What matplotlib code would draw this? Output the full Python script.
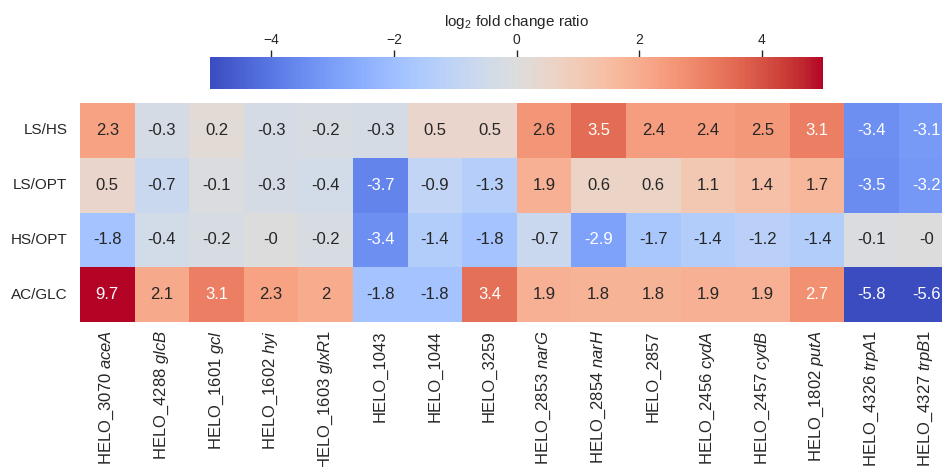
import numpy as np
import pandas as pd
import matplotlib
matplotlib.use("Agg")
import matplotlib.pyplot as plt
import seaborn as sns

# comparisons (rows) and genes (columns)
conditions = ["LS/HS", "LS/OPT", "HS/OPT", "AC/GLC"]
genes = [
    r"HELO_3070 $\mathit{aceA}$", r"HELO_4288 $\mathit{glcB}$", r"HELO_1601 $\mathit{gcl}$",
    r"HELO_1602 $\mathit{hyi}$", r"HELO_1603 $\mathit{glxR1}$", "HELO_1043", "HELO_1044",
    "HELO_3259", r"HELO_2853 $\mathit{narG}$", r"HELO_2854 $\mathit{narH}$", "HELO_2857",
    r"HELO_2456 $\mathit{cydA}$", r"HELO_2457 $\mathit{cydB}$", r"HELO_1802 $\mathit{putA}$",
    r"HELO_4326 $\mathit{trpA1}$", r"HELO_4327 $\mathit{trpB1}$",
]

ls_hs = [2.3, -0.3, 0.2, -0.3, -0.2, -0.3, 0.5, 0.5, 2.6, 3.5, 2.4, 2.4, 2.5, 3.1, -3.4, -3.1]
ls_opt = [0.5, -0.7, -0.1, -0.3, -0.4, -3.7, -0.9, -1.3, 1.9, 0.6, 0.6, 1.1, 1.4, 1.7, -3.5, -3.2]
hs_opt = [-1.8, -0.4, -0.2, -0.0, -0.2, -3.4, -1.4, -1.8, -0.7, -2.9, -1.7, -1.4, -1.2, -1.4, -0.1, -0.0]
ac_glc = [9.7, 2.1, 3.1, 2.3, 2.0, -1.8, -1.8, 3.4, 1.9, 1.8, 1.8, 1.9, 1.9, 2.7, -5.8, -5.6]

df = pd.DataFrame([ls_hs, ls_opt, hs_opt, ac_glc], index=conditions, columns=genes)

sns.set_theme(style="white")
plt.rcParams["font.family"] = ["Liberation Sans", "DejaVu Sans"]
plt.rcParams["mathtext.fontset"] = "custom"
plt.rcParams["mathtext.rm"] = "Liberation Sans"
plt.rcParams["mathtext.it"] = "Liberation Sans:italic"

fig = plt.figure(figsize=(9.42, 4.67), dpi=100)
ax = fig.add_axes([80 / 942, 1 - 322 / 467, 16 * 54.6 / 942, 219 / 467])
cax = fig.add_axes([210 / 942, 1 - 89 / 467, 613 / 942, 32 / 467])

sns.heatmap(df, ax=ax, cbar_ax=cax, cmap="coolwarm", vmin=-5, vmax=5,
            annot=True, fmt="g", annot_kws={"fontsize": 12},
            cbar_kws={"orientation": "horizontal"})

ax.tick_params(axis="y", length=0, labelsize=11, colors="#262626", pad=9)
ax.tick_params(axis="x", length=0, labelsize=12, colors="#262626", pad=6)
ax.set_yticklabels(conditions, rotation=0)
ax.set_xticklabels(genes, rotation=90)
ax.set_xlabel("")
ax.set_ylabel("")

cax.xaxis.set_ticks_position("top")
cax.xaxis.set_label_position("top")
cax.set_xticks([-4, -2, 0, 2, 4])
cax.tick_params(axis="x", length=5, width=1, labelsize=10, colors="#262626", pad=2)
cax.set_xlabel(r"log$_2$ fold change ratio", fontsize=11, color="#262626", labelpad=5)

fig.savefig("out.png", dpi=100)
